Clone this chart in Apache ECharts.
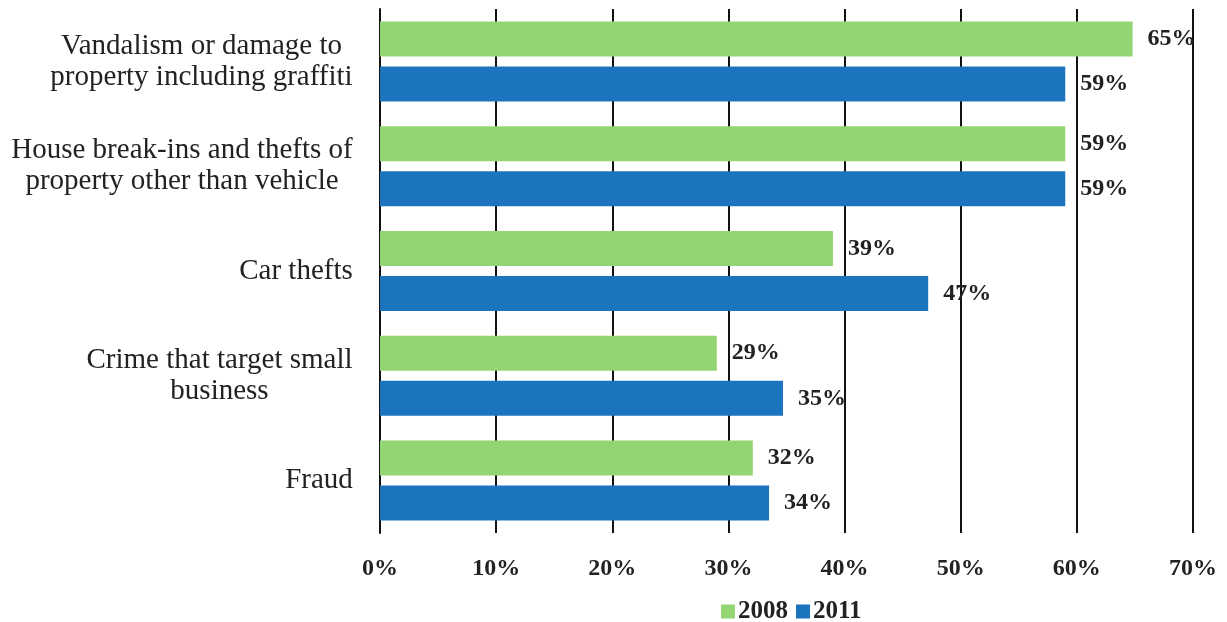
<!DOCTYPE html>
<html>
<head>
<meta charset="utf-8">
<script src="https://cdn.jsdelivr.net/npm/echarts@6/dist/echarts.min.js"></script>
<style>html,body{margin:0;padding:0;background:#fff}#c{width:1227px;height:622px}</style>
</head>
<body>
<div id="c"></div>
<script>
const categories = [
  "Vandalism or damage to\nproperty including graffiti",
  "House break-ins and thefts of\nproperty other than vehicle",
  "Car thefts",
  "Crime that target small\nbusiness",
  "Fraud"
];
const seriesNames = ["2008", "2011"];
const values2008 = [64.8, 59, 39, 29, 32.1];
const values2011 = [59, 59, 47.2, 34.7, 33.5];
const xTicks = [0, 10, 20, 30, 40, 50, 60, 70];

const SERIF = "'Liberation Serif', 'Times New Roman', serif";
const catFont = 29;
const ctx = document.createElement('canvas').getContext('2d');
ctx.font = catFont + 'px ' + SERIF;
const rich = {};
categories.forEach((c, i) => {
  const w = Math.max(...c.split('\n').map(l => ctx.measureText(l).width));
  rich['c' + i] = { width: Math.ceil(w) + 2, align: 'center', fontSize: catFont, fontFamily: SERIF, lineHeight: 31, color: '#222' };
});

const labelCfg = {
  show: true, position: 'right', distance: 15,
  fontFamily: SERIF, fontWeight: 'bold', fontSize: 24, color: '#222',
  formatter: p => Math.round(p.value) + '%'
};

const chart = echarts.init(document.getElementById('c'), null, { renderer: 'canvas' });
chart.setOption({
  backgroundColor: '#fff',
  animation: false,
  grid: { left: 380, right: 34, top: 9, bottom: 89, containLabel: false },
  legend: {
    data: seriesNames, left: 716, top: 594, itemWidth: 14, itemHeight: 14, itemGap: 8,
    icon: 'rect',
    textStyle: { fontFamily: SERIF, fontWeight: 'bold', fontSize: 25, color: '#222', padding: [0, 0, 0, -2] }
  },
  xAxis: {
    type: 'value', min: xTicks[0], max: xTicks[xTicks.length - 1], interval: 10,
    axisLine: { show: false }, axisTick: { show: false },
    splitLine: { show: true, lineStyle: { color: '#111', width: 2 } },
    axisLabel: { margin: 24, fontFamily: SERIF, fontWeight: 'bold', fontSize: 24, color: '#222', formatter: v => v + '%' }
  },
  yAxis: {
    type: 'category', data: categories, inverse: true,
    axisLine: { show: true, lineStyle: { color: '#111', width: 2 } },
    axisTick: { show: false },
    axisLabel: {
      margin: 26, align: 'right',
      formatter: (v, i) => v.split('\n').map(l => '{c' + i + '|' + l + '}').join('\n'),
      rich: rich
    }
  },
  series: [
    { name: seriesNames[0], type: 'bar', data: values2008, barWidth: 35, barGap: '28.6%', itemStyle: { color: '#93d573' }, label: labelCfg },
    { name: seriesNames[1], type: 'bar', data: values2011, barWidth: 35, barGap: '28.6%', itemStyle: { color: '#1b74bd' }, label: labelCfg }
  ]
});
</script>
</body>
</html>
